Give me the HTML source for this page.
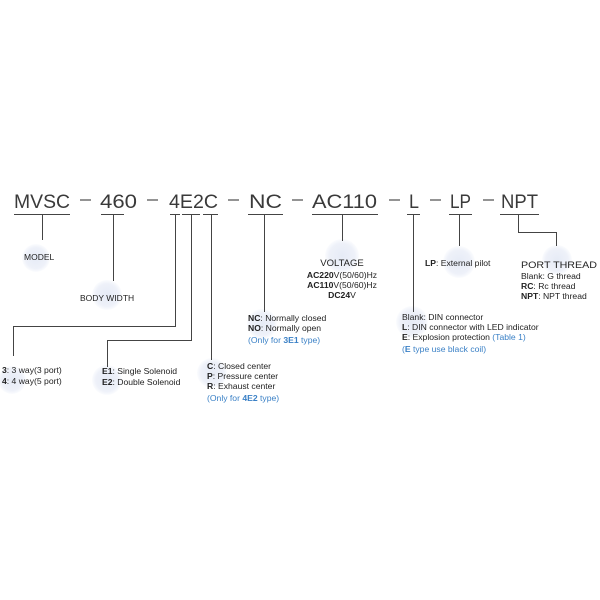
<!DOCTYPE html>
<html><head><meta charset="utf-8"><style>
html,body{margin:0;padding:0;background:#fff;width:600px;height:600px;overflow:hidden}
svg{display:block}
text{font-family:"Liberation Sans",sans-serif;fill:#222}
.m{font-size:19px;fill:#3a3a3a}
.s{font-size:8.6px}
.b{font-weight:bold}
.bl{fill:#3a80c6}
</style></head><body>
<svg width="600" height="600" viewBox="0 0 600 600">
<defs>
<radialGradient id="g" cx="0.5" cy="0.5" r="0.5">
<stop offset="0" stop-color="#e6ebf6"/><stop offset="0.75" stop-color="#eef1f9"/><stop offset="1" stop-color="#fbfcfe"/>
</radialGradient>
</defs>
<g fill="url(#g)">
<circle cx="36" cy="258" r="14"/>
<circle cx="107" cy="295" r="15"/>
<circle cx="12" cy="380" r="14"/>
<circle cx="107" cy="380" r="15"/>
<circle cx="212" cy="373" r="15"/>
<circle cx="262" cy="324" r="15"/>
<circle cx="342" cy="256" r="17"/>
<circle cx="412" cy="322" r="16"/>
<circle cx="459" cy="262" r="16"/>
<circle cx="557" cy="260" r="15"/>
</g>
<text class="m" x="14" y="208" textLength="56" lengthAdjust="spacingAndGlyphs">MVSC</text>
<text class="m" x="100" y="208" textLength="37" lengthAdjust="spacingAndGlyphs">460</text>
<text class="m" x="169" y="208" textLength="49" lengthAdjust="spacingAndGlyphs">4E2C</text>
<text class="m" x="249" y="208" textLength="33" lengthAdjust="spacingAndGlyphs">NC</text>
<text class="m" x="312" y="208" textLength="65" lengthAdjust="spacingAndGlyphs">AC110</text>
<text class="m" x="409" y="208" textLength="10" lengthAdjust="spacingAndGlyphs">L</text>
<text class="m" x="450" y="208" textLength="21" lengthAdjust="spacingAndGlyphs">LP</text>
<text class="m" x="501" y="208" textLength="37" lengthAdjust="spacingAndGlyphs">NPT</text>
<g stroke="#555" stroke-width="1.3">
<path d="M80 200H91M147 200H158M228 200H239M292 200H303M389 200H400M430 200H441M483 200H494"/>
</g>
<g stroke="#444" stroke-width="1" fill="none">
<path d="M14 214.5H70M101 214.5H124M170 214.5H180M182 214.5H200M203 214.5H218M248 214.5H283M312 214.5H378M407 214.5H420M449 214.5H472M500 214.5H539"/>
<path d="M42.5 215V240"/>
<path d="M113.5 215V281"/>
<path d="M175.5 215V326.5H13.5V356"/>
<path d="M191.5 215V340.5H107.5V367"/>
<path d="M211.5 215V360"/>
<path d="M264.5 215V312"/>
<path d="M342.5 215V241"/>
<path d="M413.5 215V312"/>
<path d="M459.5 215V246"/>
<path d="M518.5 215V232.5H556.5V246"/>
</g>
<text class="s" x="24" y="260" style="font-size:8.5px">MODEL</text>
<text class="s" x="80" y="301" style="font-size:8.5px">BODY WIDTH</text>
<text class="s" x="2" y="373"><tspan class="b">3</tspan>: 3 way(3 port)</text>
<text class="s" x="2" y="384"><tspan class="b">4</tspan>: 4 way(5 port)</text>
<text class="s" x="102" y="374"><tspan class="b">E1</tspan>: Single Solenoid</text>
<text class="s" x="102" y="385"><tspan class="b">E2</tspan>: Double Solenoid</text>
<text class="s" x="207" y="369"><tspan class="b">C</tspan>: Closed center</text>
<text class="s" x="207" y="379"><tspan class="b">P</tspan>: Pressure center</text>
<text class="s" x="207" y="389"><tspan class="b">R</tspan>: Exhaust center</text>
<text class="s bl" x="207" y="401">(Only for <tspan class="b bl">4E2</tspan> type)</text>
<text class="s" x="248" y="321"><tspan class="b">NC</tspan>: Normally closed</text>
<text class="s" x="248" y="331"><tspan class="b">NO</tspan>: Normally open</text>
<text class="s bl" x="248" y="343">(Only for <tspan class="b bl">3E1</tspan> type)</text>
<text x="342" y="266" text-anchor="middle" style="font-size:9.5px">VOLTAGE</text>
<text class="s" x="342" y="278" text-anchor="middle"><tspan class="b">AC220</tspan>V(50/60)Hz</text>
<text class="s" x="342" y="288" text-anchor="middle"><tspan class="b">AC110</tspan>V(50/60)Hz</text>
<text class="s" x="342" y="298" text-anchor="middle"><tspan class="b">DC24</tspan>V</text>
<text class="s" x="402" y="320">Blank: DIN connector</text>
<text class="s" x="402" y="330"><tspan class="b">L</tspan>: DIN connector with LED indicator</text>
<text class="s" x="402" y="340"><tspan class="b">E</tspan>: Explosion protection <tspan class="bl">(Table 1)</tspan></text>
<text class="s bl" x="402" y="352">(<tspan class="b bl">E</tspan> type use black coil)</text>
<text class="s" x="425" y="266"><tspan class="b">LP</tspan>: External pilot</text>
<text x="521" y="268" style="font-size:9.5px" textLength="76" lengthAdjust="spacingAndGlyphs">PORT THREAD</text>
<text class="s" x="521" y="279">Blank: G thread</text>
<text class="s" x="521" y="289"><tspan class="b">RC</tspan>: Rc thread</text>
<text class="s" x="521" y="299"><tspan class="b">NPT</tspan>: NPT thread</text>
</svg>
</body></html>
